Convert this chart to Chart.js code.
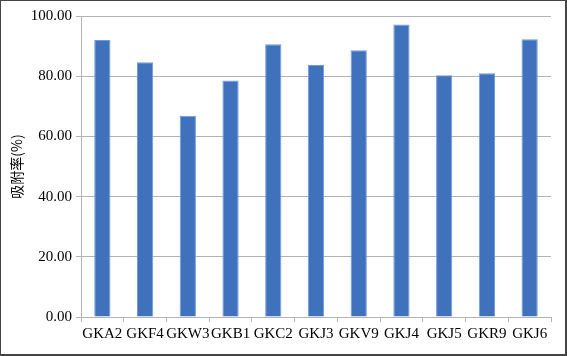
<!DOCTYPE html>
<html>
<head>
<meta charset="utf-8">
<script src="https://cdn.jsdelivr.net/npm/chart.js@4"></script>
<style>
    body { margin: 0; background: #fff; }
    #box { width: 567px; height: 356px; box-sizing: border-box; border: 1px solid #444; border-right-width: 2px; border-bottom-width: 2px; }
    canvas { display: block; }
</style>
</head>
<body>
<div id="box"><canvas id="adsChart" width="564" height="353"></canvas></div>
<script>
// Vzorky a adsorpce (%)
const categories = ['GKA2', 'GKF4', 'GKW3', 'GKB1', 'GKC2', 'GKJ3', 'GKV9', 'GKJ4', 'GKJ5', 'GKR9', 'GKJ6'];
const adsorption = [92.0, 84.6, 66.9, 78.6, 90.6, 83.7, 88.6, 97.2, 80.3, 81.0, 92.3];
const yTicks = [0, 20, 40, 60, 80, 100];

const gridColor = '#b3b3b3';
const font = { family: '"Liberation Serif", "Times New Roman", serif', size: 15 };

const ctx = document.getElementById('adsChart').getContext('2d');
new Chart(ctx, {
    type: 'bar',
    data: {
        labels: categories,
        datasets: [{
            label: '吸附率(%)',
            data: adsorption,
            backgroundColor: '#4071bd',
            borderColor: '#6d9be0',
            borderWidth: 1,
            categoryPercentage: 1,
            barPercentage: 0.38
        }]
    },
    options: {
        responsive: false,
        animation: false,
        layout: { padding: { top: 15, right: 14, left: 0, bottom: 0 } },
        plugins: { legend: { display: false }, tooltip: { enabled: false } },
        scales: {
            x: {
                grid: { display: true, drawOnChartArea: false, drawTicks: true, tickLength: 5, color: gridColor },
                border: { color: gridColor, width: 1 },
                ticks: { color: '#000', font: font, padding: 3, maxRotation: 0, autoSkip: false },
                afterFit: function (s) { s.height = 37; }
            },
            y: {
                min: 0,
                max: 100,
                afterBuildTicks: function (s) { s.ticks = yTicks.map(v => ({ value: v })); },
                grid: { color: gridColor, tickLength: 5 },
                border: { color: gridColor, width: 1 },
                ticks: { color: '#000', font: font, padding: 4, callback: v => v.toFixed(2) },
                title: {
                    display: true,
                    text: '吸附率(%)',
                    color: '#000',
                    font: { family: '"Noto Sans CJK SC", "Liberation Serif", serif', size: 14 },
                    padding: { top: 7, bottom: 0 }
                },
                afterFit: function (s) { s.width = 80; }
            }
        }
    }
});
</script>
</body>
</html>
